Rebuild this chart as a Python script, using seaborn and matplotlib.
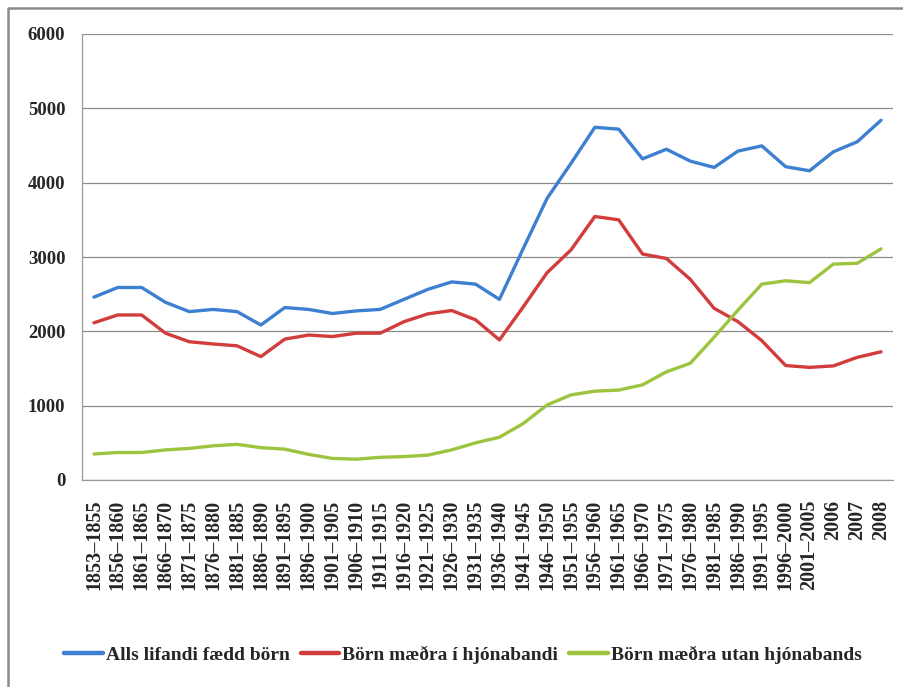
import pandas as pd
import matplotlib
matplotlib.use('Agg')
import matplotlib.pyplot as plt
from matplotlib.lines import Line2D
import seaborn as sns

# Period labels (x-axis categories)
periods = [
    '1853–1855', '1856–1860', '1861–1865', '1866–1870', '1871–1875',
    '1876–1880', '1881–1885', '1886–1890', '1891–1895', '1896–1900',
    '1901–1905', '1906–1910', '1911–1915', '1916–1920', '1921–1925',
    '1926–1930', '1931–1935', '1936–1940', '1941–1945', '1946–1950',
    '1951–1955', '1956–1960', '1961–1965', '1966–1970', '1971–1975',
    '1976–1980', '1981–1985', '1986–1990', '1991–1995', '1996–2000',
    '2001–2005', '2006', '2007', '2008',
]

# Values
alls = [2460, 2590, 2590, 2390, 2265, 2295, 2265, 2085, 2320, 2295,
        2240, 2275, 2295, 2430, 2565, 2665, 2635, 2430, 3115, 3790,
        4260, 4745, 4720, 4320, 4450, 4290, 4205, 4425, 4495, 4215,
        4160, 4415, 4550, 4840]
i_hjonabandi = [2115, 2220, 2220, 1975, 1860, 1830, 1805, 1660, 1895, 1950,
                1930, 1975, 1975, 2130, 2235, 2280, 2155, 1885, 2330, 2790,
                3095, 3545, 3500, 3040, 2980, 2700, 2310, 2130, 1875, 1540,
                1515, 1535, 1650, 1725]
utan_hjonabands = [350, 370, 370, 405, 425, 460, 480, 435, 415, 345,
                   290, 280, 305, 315, 335, 405, 500, 575, 760, 1010,
                   1145, 1195, 1210, 1280, 1455, 1570, 1920, 2285, 2635, 2680,
                   2655, 2905, 2915, 3110]

series_names = ['Alls lifandi fædd börn', 'Börn mæðra í hjónabandi',
                'Börn mæðra utan hjónabands']
colors = ['#3d7fd0', '#d23c3c', '#9cc43e']

# Long format for seaborn
df = pd.DataFrame({'period': periods * 3,
                   'value': alls + i_hjonabandi + utan_hjonabands,
                   'series': [n for n in series_names for _ in periods]})
df['pos'] = [i for _ in series_names for i in range(len(periods))]

sns.set_style('white')
plt.rcParams['font.family'] = ['Liberation Serif', 'DejaVu Serif']
plt.rcParams['font.weight'] = 'bold'

fig = plt.figure(figsize=(9.04, 6.87), dpi=100)
ax = fig.add_axes([82 / 904, 1 - 480 / 687, (893 - 82) / 904, (480 - 34) / 687])

sns.lineplot(data=df, x='pos', y='value', hue='series', palette=colors,
             hue_order=series_names, sort=False, linewidth=2.4, ax=ax,
             legend=False)

ax.set_xlim(-0.5, len(periods) - 0.5)
ax.set_ylim(0, 6000)
ax.set_yticks(range(0, 6001, 1000))
ax.set_xticks(range(len(periods)))
ax.set_xticklabels(periods, rotation=90, fontsize=14.5, fontweight='bold')
ax.tick_params(axis='y', labelsize=13.5, pad=12, length=0)
ax.tick_params(axis='x', pad=14, length=0)
for lbl in ax.get_yticklabels():
    lbl.set_fontweight('bold')
ax.set_xlabel('')
ax.set_ylabel('')

ax.yaxis.grid(True, color='#8c8c8c', linewidth=0.9)
ax.xaxis.grid(False)
for side in ['top', 'right']:
    ax.spines[side].set_visible(False)
for side in ['left', 'bottom']:
    ax.spines[side].set_color('#9a9a9a')
    ax.spines[side].set_linewidth(0.9)

# Legend at the bottom
handles = [Line2D([], [], color=c, linewidth=3.2) for c in colors]
fig.legend(handles, series_names, loc='center', ncol=3,
           bbox_to_anchor=(0.512, 1 - 655 / 687), frameon=False,
           prop={'family': 'Liberation Serif', 'weight': 'bold', 'size': 14},
           handlelength=2.0, handletextpad=0.15, columnspacing=0.55)

# Outer chart border (top and left visible)
fig.add_artist(Line2D([8 / 904, 8 / 904, 1], [0, 1 - 8 / 687, 1 - 8 / 687],
                      transform=fig.transFigure, color='#8a8a8a', linewidth=1.8))

fig.savefig('out.png', dpi=100)
